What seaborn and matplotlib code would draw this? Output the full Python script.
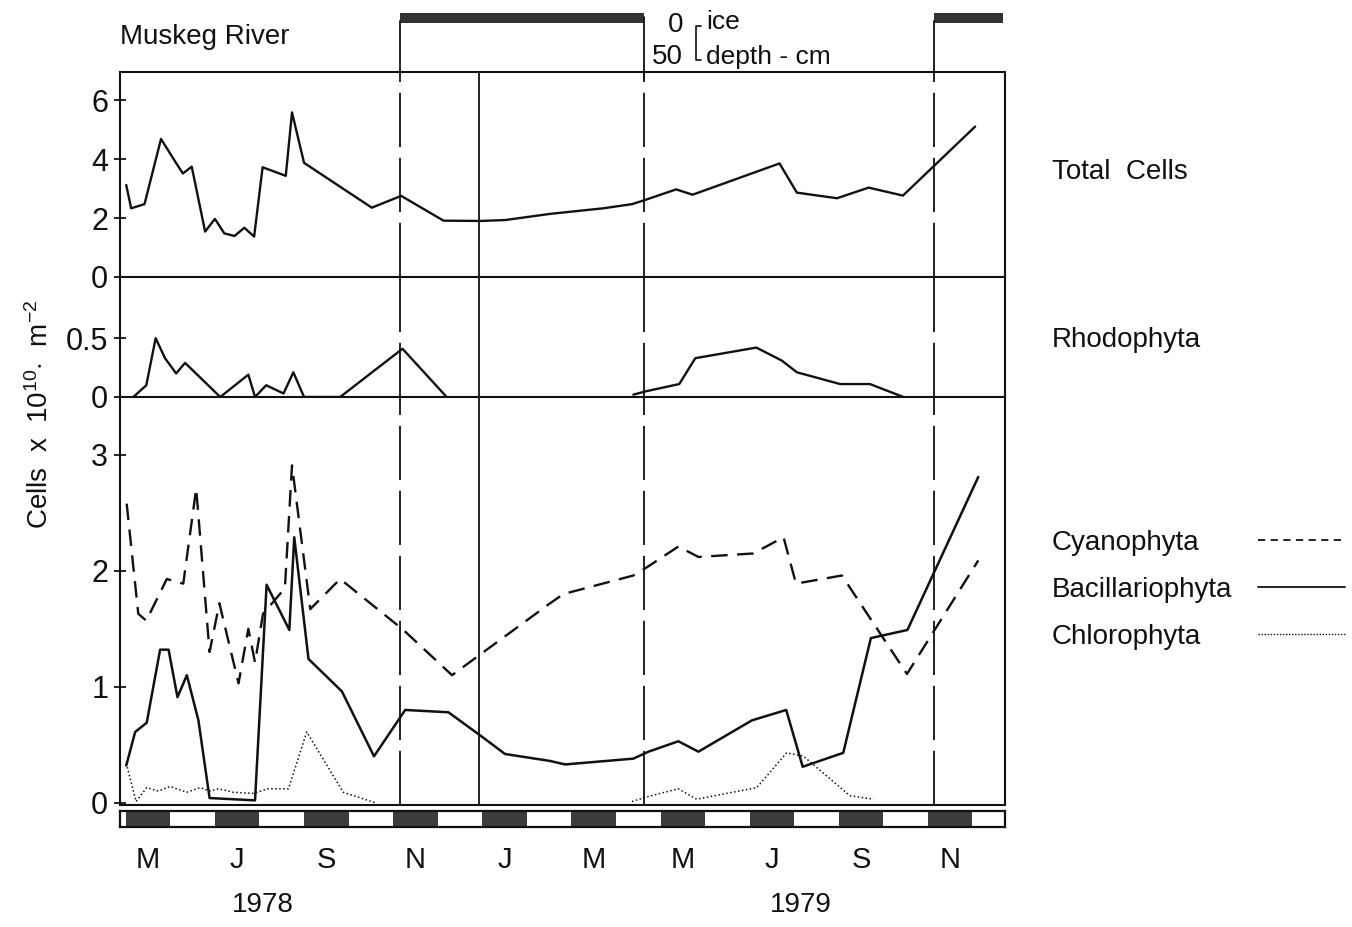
import numpy as np
import pandas as pd
import matplotlib
matplotlib.use("Agg")
import matplotlib.pyplot as plt
from matplotlib.lines import Line2D
import seaborn as sns

# ---------------- data (x = months elapsed since 1 May 1978) ----------------
total_x = [0.01, 0.12, 0.42, 0.79, 1.11, 1.28, 1.48, 1.78, 2.00, 2.21, 2.44, 2.66, 2.88,
           3.07, 3.59, 3.73, 4.00, 5.52, 6.18, 7.13, 7.95, 8.51, 9.52, 10.72, 11.36,
           11.65, 12.35, 12.72, 14.67, 15.06, 15.96, 16.67, 17.44, 19.06]
total_y = [3.12, 2.33, 2.47, 4.68, 3.91, 3.51, 3.74, 1.54, 1.97, 1.48, 1.39, 1.67, 1.37,
           3.72, 3.43, 5.58, 3.87, 2.35, 2.75, 1.91, 1.90, 1.93, 2.14, 2.33, 2.47,
           2.61, 2.97, 2.79, 3.85, 2.86, 2.67, 3.03, 2.76, 5.10]

rhodo_x = [0.17, 0.46, 0.67, 0.88, 1.13, 1.33, 2.12, 2.75, 2.90, 3.15, 3.54, 3.76, 4.00,
           4.81, 6.21, 7.20,
           11.39, 11.69, 12.42, 12.78, 14.15, 14.72, 15.06, 16.03, 16.70, 17.45]
rhodo_y = [0.0, 0.10, 0.50, 0.33, 0.20, 0.29, 0.0, 0.19, 0.0, 0.10, 0.03, 0.21, 0.0,
           0.0, 0.41, 0.0,
           0.02, 0.05, 0.11, 0.33, 0.42, 0.31, 0.21, 0.11, 0.11, 0.0]
rhodo_seg = [1] * 16 + [2] * 10

cyano_x = [0.02, 0.28, 0.46, 0.92, 1.29, 1.58, 1.88, 2.10, 2.53, 2.75, 2.90, 3.08, 3.57,
           3.73, 4.14, 4.81, 6.23, 7.32, 9.52, 9.82, 11.39, 11.69, 12.40, 12.85, 14.08,
           14.76, 15.04, 16.07, 17.53, 19.13]
cyano_y = [2.58, 1.63, 1.57, 1.93, 1.89, 2.71, 1.30, 1.72, 1.03, 1.50, 1.21, 1.63, 1.85,
           2.91, 1.67, 1.93, 1.49, 1.10, 1.72, 1.80, 1.96, 2.03, 2.21, 2.12, 2.15,
           2.29, 1.89, 1.96, 1.11, 2.09]

bacil_x = [0.01, 0.21, 0.47, 0.77, 0.96, 1.16, 1.37, 1.63, 1.88, 2.90, 3.16, 3.67, 3.78,
           4.10, 4.85, 5.57, 6.27, 7.24, 7.99, 8.51, 9.52, 9.86, 11.39, 11.73, 12.40,
           12.85, 14.05, 14.82, 15.19, 16.10, 16.72, 17.54, 19.13]
bacil_y = [0.32, 0.61, 0.69, 1.32, 1.32, 0.91, 1.10, 0.71, 0.04, 0.02, 1.88, 1.49, 2.29,
           1.24, 0.96, 0.40, 0.80, 0.78, 0.57, 0.42, 0.36, 0.33, 0.38, 0.44, 0.53,
           0.44, 0.71, 0.80, 0.31, 0.43, 1.42, 1.49, 2.81]

chloro_x = [0.01, 0.23, 0.47, 0.73, 0.99, 1.37, 1.67, 1.89, 2.08, 2.41, 2.86, 3.20, 3.65,
            4.06, 4.88, 5.59,
            11.36, 11.69, 12.40, 12.81, 14.16, 14.83, 15.21, 16.25, 16.78]
chloro_y = [0.34, 0.01, 0.13, 0.10, 0.14, 0.09, 0.13, 0.10, 0.12, 0.09, 0.08, 0.12, 0.12,
            0.61, 0.09, 0.0,
            0.01, 0.05, 0.12, 0.03, 0.13, 0.43, 0.40, 0.06, 0.03]
chloro_seg = [1] * 16 + [2] * 9

ice_start = [6.16, 18.14]
ice_end = [11.64, 19.69]
year_break = 7.93

month_labels = ["M", "J", "S", "N", "J", "M", "M", "J", "S", "N"]
month_label_pos = [0.5, 2.5, 4.5, 6.5, 8.5, 10.5, 12.5, 14.5, 16.5, 18.5]
season_dark_months = [0, 2, 4, 6, 8, 10, 12, 14, 16, 18]
years = ["1978", "1979"]

# ---------------- style ----------------
sns.set_theme(style="white")
plt.rcParams["font.family"] = ["Liberation Sans", "DejaVu Sans"]
plt.rcParams["mathtext.fontset"] = "custom"
plt.rcParams["mathtext.rm"] = "Liberation Sans"
plt.rcParams["mathtext.it"] = "Liberation Sans"
INK = "#111111"

W_PX, H_PX = 1352, 927
fig = plt.figure(figsize=(W_PX / 100, H_PX / 100), dpi=100)


def fx(px):
    return px / W_PX


def fy(px):
    return 1 - px / H_PX


L, R = fx(120), fx(1005)
Wd = R - L
ax_top = fig.add_axes([L, fy(277), Wd, fy(72) - fy(277)])
ax_mid = fig.add_axes([L, fy(397), Wd, fy(277) - fy(397)], sharex=ax_top)
ax_bot = fig.add_axes([L, fy(805), Wd, fy(397) - fy(805)], sharex=ax_top)
ax_sea = fig.add_axes([L, fy(827), Wd, fy(811) - fy(827)], sharex=ax_top)
ax_ice = fig.add_axes([L, fy(72), Wd, fy(8) - fy(72)], sharex=ax_top)

XLIM = (-0.13, 19.73)

# data frames
df_total = pd.DataFrame({"month": total_x, "cells": total_y})
df_rhodo = pd.DataFrame({"month": rhodo_x, "cells": rhodo_y, "seg": rhodo_seg})
df_cyano = pd.DataFrame({"month": cyano_x, "cells": cyano_y})
df_bacil = pd.DataFrame({"month": bacil_x, "cells": bacil_y})
df_chloro = pd.DataFrame({"month": chloro_x, "cells": chloro_y, "seg": chloro_seg})

sns.lineplot(data=df_total, x="month", y="cells", ax=ax_top, color=INK, lw=1.7)
sns.lineplot(data=df_rhodo, x="month", y="cells", units="seg", estimator=None,
             ax=ax_mid, color=INK, lw=1.7)
sns.lineplot(data=df_cyano, x="month", y="cells", ax=ax_bot, color=INK, lw=1.7,
             linestyle=(0, (7, 4)))
sns.lineplot(data=df_bacil, x="month", y="cells", ax=ax_bot, color=INK, lw=1.8)
sns.lineplot(data=df_chloro, x="month", y="cells", units="seg", estimator=None,
             ax=ax_bot, color=INK, lw=1.1, linestyle=(0, (1, 1.6)))

ax_top.set_ylim(0, 6.95)
ax_mid.set_ylim(0, 1.02)
ax_bot.set_ylim(-0.02, 3.5)
ax_top.set_yticks([0, 2, 4, 6])
ax_mid.set_yticks([0, 0.5])
ax_mid.set_yticklabels(["0", "0.5"])
ax_bot.set_yticks([0, 1, 2, 3])

for ax in (ax_top, ax_mid, ax_bot):
    ax.patch.set_alpha(0)
    ax.set_xlim(*XLIM)
    ax.set_xlabel("")
    ax.set_ylabel("")
    ax.tick_params(axis="x", bottom=False, labelbottom=False)
    ax.tick_params(axis="y", left=True, direction="inout", length=9, width=1.3,
                   pad=4, labelsize=22, colors=INK)
    for s in ax.spines.values():
        s.set_color(INK)
        s.set_linewidth(1.5)
    for xs in ice_start + ice_end[:1]:
        ax.axvline(xs, color=INK, lw=1.3, linestyle=(0, (30, 6)))
    ax.axvline(year_break, color=INK, lw=1.3)
ax_mid.spines["top"].set_visible(False)
ax_bot.spines["top"].set_visible(False)

# seasonal month strip
ax_sea.bar(season_dark_months, [1] * len(season_dark_months), width=1.0, align="edge",
           color="#3c3c3c", edgecolor="none")
ax_sea.set_ylim(0, 1)
ax_sea.set_xlim(*XLIM)
ax_sea.set_yticks([])
ax_sea.set_xticks(month_label_pos)
ax_sea.set_xticklabels(month_labels, fontsize=21, color=INK)
ax_sea.tick_params(axis="x", length=0, pad=14)
for s in ax_sea.spines.values():
    s.set_color(INK)
    s.set_linewidth(1.6)

# ice strip on top
ax_ice.patch.set_alpha(0)
ax_ice.set_xlim(*XLIM)
ax_ice.set_ylim(0, 1)
ax_ice.axis("off")
for s, e in zip(ice_start, ice_end):
    ax_ice.axvspan(s, e, ymin=0.77, ymax=0.92, color="#333333", lw=0)
    ax_ice.axvline(s, ymin=0, ymax=0.8, color=INK, lw=1.3)
ax_ice.axvline(ice_end[0], ymin=-0.1, ymax=0.86, color=INK, lw=1.3, clip_on=False)

# ---------------- texts ----------------
fig.text(fx(120), fy(37), "Muskeg River", fontsize=20, va="center", color=INK)
fig.text(fx(683), fy(25), "0", fontsize=20, ha="right", va="center", color=INK)
fig.text(fx(683), fy(57), "50", fontsize=20, ha="right", va="center", color=INK)
fig.text(fx(706), fy(22), "ice", fontsize=19, ha="left", va="center", color=INK)
fig.text(fx(706), fy(57), "depth - cm", fontsize=19, ha="left", va="center", color=INK)
fig.add_artist(Line2D([fx(701), fx(696), fx(696), fx(701)],
                      [fy(26), fy(26), fy(60), fy(60)],
                      transform=fig.transFigure, color=INK, lw=1.2))

fig.text(fx(40), fy(414), "Cells  x  10$^{10}$$\\cdot$  m$^{-2}$", rotation=90,
         fontsize=20, ha="center", va="center", color=INK)

fig.text(fx(1052), fy(172), "Total  Cells", fontsize=20, va="center", color=INK)
fig.text(fx(1052), fy(340), "Rhodophyta", fontsize=20, va="center", color=INK)

legend_items = [("Cyanophyta", 543, (0, (4, 3)), 1.3),
                ("Bacillariophyta", 590, "-", 1.3),
                ("Chlorophyta", 637, (0, (1, 1.2)), 1.0)]
for name, ypx, ls, lw in legend_items:
    fig.text(fx(1052), fy(ypx), name, fontsize=20, va="center", color=INK)
    fig.add_artist(Line2D([fx(1258), fx(1345)], [fy(ypx - 3), fy(ypx - 3)],
                          transform=fig.transFigure, color=INK, lw=lw, linestyle=ls))

fig.text(fx(263), fy(905), years[0], fontsize=20, ha="center", va="center", color=INK)
fig.text(fx(801), fy(905), years[1], fontsize=20, ha="center", va="center", color=INK)

fig.savefig("out.png", dpi=100, facecolor="white")
